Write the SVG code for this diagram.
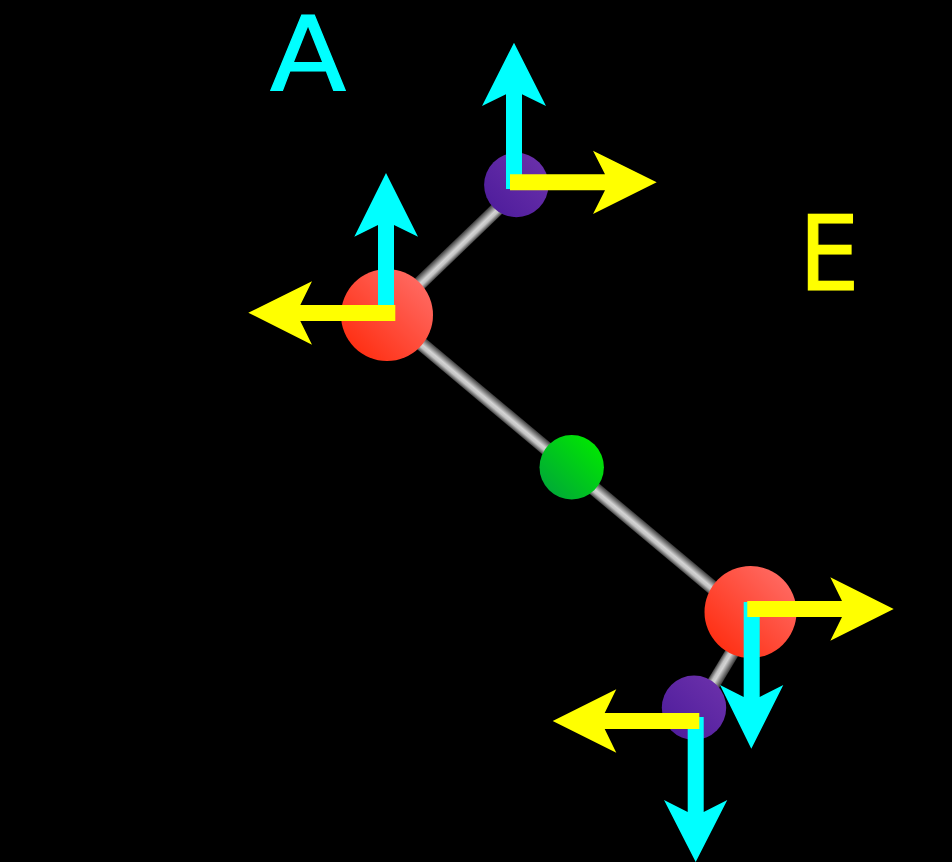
<svg xmlns="http://www.w3.org/2000/svg" width="952" height="862" viewBox="0 0 952 862">
<style>
.cy{fill:#00ffff}.ye{fill:#ffff00}
.lbl{font-family:"DejaVu Sans",sans-serif;font-size:104px;stroke-width:1.2px}
.lbl.cy{stroke:#00ffff}.lbl.ye{stroke:#ffff00}
</style>
<defs>
<linearGradient id="rod" x1="0" y1="0" x2="0" y2="1"><stop offset="0" stop-color="#3a3a3a"/><stop offset="0.5" stop-color="#d4d4d4"/><stop offset="0.7" stop-color="#c4c4c4"/><stop offset="1" stop-color="#444"/></linearGradient>
<linearGradient id="red" x1="0.1" y1="0.9" x2="0.9" y2="0.1"><stop offset="0" stop-color="#ff2d10"/><stop offset="1" stop-color="#ff6b64"/></linearGradient>
<linearGradient id="pur" x1="0.1" y1="0.9" x2="0.9" y2="0.1"><stop offset="0" stop-color="#4f1d9c"/><stop offset="1" stop-color="#6a30aa"/></linearGradient>
<linearGradient id="grn" x1="0.1" y1="0.9" x2="0.9" y2="0.1"><stop offset="0" stop-color="#00a838"/><stop offset="1" stop-color="#00e800"/></linearGradient>
</defs>
<rect width="952" height="862" fill="#000"/>
<g id="connectors">
<rect x="0" y="-7" width="179" height="14" fill="url(#rod)" transform="translate(387,315) rotate(-43.9)"/>
<rect x="0" y="-7" width="473" height="14" fill="url(#rod)" transform="translate(387,315) rotate(39.95)"/>
<rect x="0" y="-7" width="110" height="14" fill="url(#rod)" transform="translate(756.5,612) rotate(121)"/>
</g>
<g id="node-upper-purple"><circle cx="516.3" cy="185" r="32.2" fill="url(#pur)"/></g>
<g id="node-upper-red"><circle cx="387" cy="315" r="46" fill="url(#red)"/></g>
<g id="node-green"><circle cx="571.7" cy="467.3" r="32.2" fill="url(#grn)"/></g>
<g id="node-lower-red"><circle cx="750.5" cy="612" r="46" fill="url(#red)"/></g>
<g id="node-lower-purple"><circle cx="694" cy="707.7" r="32.2" fill="url(#pur)"/></g>
<g id="arrows">
<polygon class="cy" points="514,42.7 546,106 522,94.3 522,189 506,189 506,94.3 482,106"/>
<polygon class="ye" points="656.7,182.3 593,214 605,190.3 510,190.3 510,174.3 605,174.3 593,150.7"/>
<polygon class="cy" points="386,173 418,236.7 394,225 394,321 378,321 378,225 354.3,236.7"/>
<polygon class="ye" points="248.3,312.7 312,281.3 300.3,305 395.3,305 395.3,321 300.3,321 312,344.7"/>
<polygon class="cy" points="751.3,748.7 783.3,685 759.7,697 759.7,602 743.7,602 743.7,697 720,685"/>
<polygon class="ye" points="893.7,609 830.3,640.7 842,617 747.3,617 747.3,601 842,601 830.3,577.3"/>
<polygon class="cy" points="695.7,862 727.3,800 703.7,812 703.7,717 687.7,717 687.7,812 664,800"/>
<polygon class="ye" points="552.7,721 616.3,689.3 604.7,713 699.3,713 699.3,729 604.7,729 616.3,752.7"/>
</g>
<g id="label-a"><text class="lbl cy" transform="translate(270,89.6) scale(1.07,1)">A</text></g>
<g id="label-e"><text class="lbl ye" transform="translate(799,289.6) scale(0.92,1)">E</text></g>
</svg>
